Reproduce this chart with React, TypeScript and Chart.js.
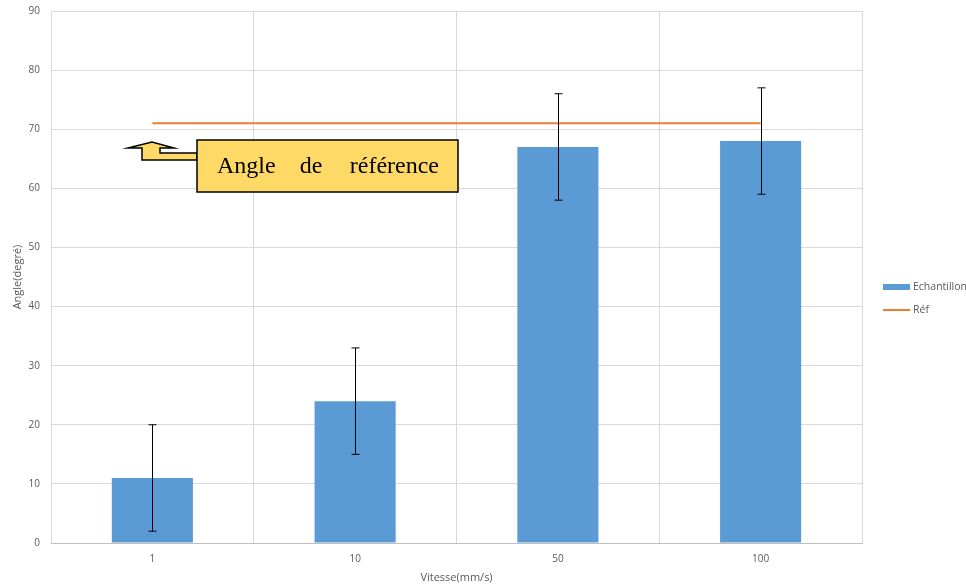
import { useEffect, useRef } from 'react';
import { Chart, registerables } from 'chart.js';
Chart.register(...registerables);

const categories = ['1', '10', '50', '100'];
const angles = [11, 24, 67, 68];
const errors = [9, 9, 9, 9];
const refAngle = [71, 71, 71, 71];
const seriesNames = ['Echantillon', 'Réf'];
const calloutWords = ['Angle', 'de', 'référence'];
const yTitle = 'Angle(degré)';
const xTitle = 'Vitesse(mm/s)';

const BLUE = '#5B9BD5';
const ORANGE = '#ED7D31';
const TXT = '#595959';
const GRID = '#d9d9d9';

const errorBars = {
  id: 'errorBars',
  afterDatasetsDraw(chart: any) {
    const meta = chart.getDatasetMeta(0);
    const ys = chart.scales.y;
    const ctx = chart.ctx;
    ctx.save();
    ctx.strokeStyle = '#000';
    ctx.lineWidth = 1;
    meta.data.forEach((bar: any, i: number) => {
      const x = Math.round(bar.x) + 0.5;
      const top = ys.getPixelForValue(angles[i] + errors[i]);
      const bot = ys.getPixelForValue(angles[i] - errors[i]);
      ctx.beginPath();
      ctx.moveTo(x, top);
      ctx.lineTo(x, bot);
      ctx.moveTo(x - 4, top);
      ctx.lineTo(x + 4, top);
      ctx.moveTo(x - 4, bot);
      ctx.lineTo(x + 4, bot);
      ctx.stroke();
    });
    ctx.restore();
  },
};

const customLegend = {
  id: 'customLegend',
  afterDraw(chart: any) {
    const ctx = chart.ctx;
    const x0 = chart.chartArea.right + 21;
    ctx.save();
    ctx.fillStyle = BLUE;
    ctx.fillRect(x0, 284, 27, 6);
    ctx.strokeStyle = ORANGE;
    ctx.lineWidth = 2;
    ctx.beginPath();
    ctx.moveTo(x0, 310);
    ctx.lineTo(x0 + 27, 310);
    ctx.stroke();
    ctx.fillStyle = TXT;
    ctx.font = '10.5px "Open Sans"';
    ctx.textBaseline = 'middle';
    ctx.textAlign = 'left';
    ctx.fillText(seriesNames[0], x0 + 30, 287);
    ctx.fillText(seriesNames[1], x0 + 30, 310);
    ctx.restore();
  },
};

const callout = {
  id: 'callout',
  afterDraw(chart: any) {
    const ctx = chart.ctx;
    const L = chart.chartArea.left;
    const T = chart.chartArea.top;
    const ox = L - 51;
    const oy = T - 11;
    ctx.save();
    ctx.fillStyle = '#FFD966';
    ctx.strokeStyle = '#000';
    ctx.lineWidth = 1.5;
    ctx.beginPath();
    const pts = [
      [128, 148], [152, 142], [174, 148], [160, 148], [160, 153],
      [197, 153], [197, 160], [142, 160], [142, 148],
    ];
    pts.forEach(([px, py], i) => {
      if (i === 0) ctx.moveTo(px + ox, py + oy);
      else ctx.lineTo(px + ox, py + oy);
    });
    ctx.closePath();
    ctx.fill();
    ctx.stroke();
    ctx.fillRect(197 + ox, 140 + oy, 261, 52);
    ctx.strokeRect(197 + ox, 140 + oy, 261, 52);
    ctx.fillStyle = '#000';
    ctx.font = '24px "Liberation Serif"';
    ctx.textBaseline = 'alphabetic';
    ctx.textAlign = 'left';
    ctx.fillText(calloutWords[0], 217 + ox, 173 + oy);
    ctx.textAlign = 'center';
    ctx.fillText(calloutWords[1], 311 + ox, 173 + oy);
    ctx.textAlign = 'right';
    ctx.fillText(calloutWords[2], 439 + ox, 173 + oy);
    ctx.restore();
  },
};

export default function App() {
  const ref = useRef<HTMLCanvasElement>(null);
  useEffect(() => {
    if (!ref.current) return;
    const chart = new Chart(ref.current, {
      type: 'bar',
      data: {
        labels: categories,
        datasets: [
          {
            type: 'bar',
            label: seriesNames[0],
            data: angles,
            backgroundColor: BLUE,
            categoryPercentage: 1,
            barPercentage: 0.4,
          } as any,
          {
            type: 'line',
            label: seriesNames[1],
            data: refAngle,
            borderColor: ORANGE,
            borderWidth: 2,
            pointRadius: 0,
            fill: false,
          } as any,
        ],
      },
      options: {
        responsive: false,
        animation: false,
        devicePixelRatio: 1,
        layout: { padding: { top: 11, right: 104, left: 0, bottom: 0 } },
        plugins: {
          legend: { display: false },
          tooltip: { enabled: false },
        },
        scales: {
          x: {
            offset: true,
            grid: { color: GRID, drawTicks: false, offset: true },
            border: { color: '#bfbfbf' },
            ticks: { color: TXT, font: { size: 10, family: 'Open Sans' }, padding: 10 },
            title: {
              display: true,
              text: xTitle,
              color: TXT,
              font: { size: 11, family: 'Open Sans' },
              padding: { top: 0, bottom: 1 },
            },
            afterFit(s: any) { s.height = 42; },
          },
          y: {
            min: 0,
            max: 90,
            grid: { color: GRID, drawTicks: true, tickLength: 10, tickColor: 'rgba(0,0,0,0)' },
            border: { display: false },
            ticks: { stepSize: 10, color: TXT, font: { size: 10, family: 'Open Sans' }, padding: 1 },
            title: {
              display: true,
              text: yTitle,
              color: TXT,
              font: { size: 11, family: 'Open Sans' },
              padding: { top: 11, bottom: 0 },
            },
            afterFit(s: any) { s.width = 51; },
          },
        },
      },
      plugins: [errorBars, customLegend, callout],
    });
    return () => chart.destroy();
  }, []);
  return (
    <div style={{ position: 'fixed', left: 0, top: 0, width: 966, height: 585, background: '#fff' }}>
      <canvas ref={ref} width={966} height={585} style={{ display: 'block' }} />
    </div>
  );
}
